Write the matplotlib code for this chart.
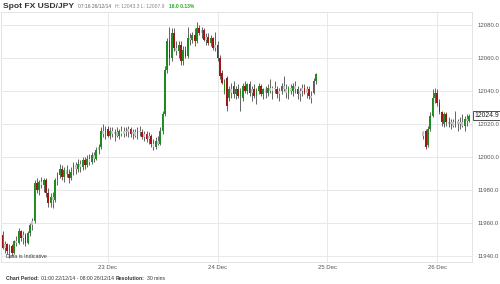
"""
Spot FX USD/JPY - 30 min candles, 22-26 Dec 2014
"""

import pandas as pd
import matplotlib.pyplot as plt
import matplotlib.dates as mdates
from matplotlib.patches import Rectangle

plt.rcParams['font.family'] = ['Liberation Sans', 'DejaVu Sans']

# candle start times (market closed over Christmas day)
TIMES = list(pd.date_range('2014-12-22 01:00', '2014-12-24 21:30', freq='30min')) + \
        list(pd.date_range('2014-12-25 21:00', '2014-12-26 07:00', freq='30min'))

OPEN = [
    11953, 11945, 11947, 11943, 11946, 11942, 11949, 11948, 11955, 11951,
    11953, 11948, 11954, 11959, 11961, 11984, 11980, 11985, 11983, 11986,
    11978, 11972, 11976, 11974, 11986, 11989, 11993, 11988, 11992, 11990,
    11987, 11991, 11995, 11993, 11996, 11994, 11998, 11995, 11999, 11997,
    12001, 11999, 12004, 12006, 12016, 12014, 12017, 12013, 12016, 12014,
    12015, 12013, 12016, 12014, 12016, 12015, 12017, 12014, 12015, 12013,
    12016, 12015, 12012, 12014, 12011, 12013, 12008, 12006, 12010, 12008,
    12016, 12026, 12053, 12070, 12060, 12075, 12066, 12064, 12068, 12058,
    12065, 12061, 12072, 12071, 12074, 12070, 12078, 12075, 12077, 12071,
    12073, 12069, 12072, 12066, 12068, 12060, 12051, 12040, 12048, 12036,
    12041, 12043, 12038, 12041, 12037, 12036, 12043, 12040, 12044, 12039,
    12041, 12037, 12040, 12043, 12038, 12041, 12039, 12042, 12040, 12042,
    12041, 12038, 12040, 12043, 12041, 12039, 12042, 12040, 12043, 12041,
    12038, 12040, 12042, 12039, 12041, 12037, 12039, 12046,
    # 25/26 Dec
    12013, 12016, 12007, 12017, 12025, 12036, 12039, 12033, 12027, 12020,
    12026, 12021, 12020, 12021, 12019, 12022, 12020, 12021, 12019, 12023,
    12022,
]

HIGH = [
    11955, 11949, 11948, 11947, 11947, 11950, 11952, 11957, 11956, 11955,
    11954, 11955, 11960, 11963, 11986, 11987, 11986, 11988, 11987, 11987,
    11981, 11978, 11979, 11987, 11991, 11996, 11995, 11994, 11995, 11993,
    11994, 11997, 11997, 11999, 11998, 12000, 12000, 12001, 12002, 12003,
    12003, 12006, 12008, 12018, 12020, 12019, 12019, 12018, 12018, 12017,
    12018, 12017, 12019, 12018, 12018, 12019, 12018, 12017, 12017, 12018,
    12019, 12017, 12016, 12016, 12015, 12014, 12011, 12012, 12013, 12018,
    12028, 12055, 12072, 12079, 12078, 12078, 12070, 12070, 12070, 12067,
    12067, 12079, 12075, 12076, 12078, 12082, 12080, 12079, 12078, 12075,
    12075, 12074, 12073, 12076, 12070, 12062, 12053, 12047, 12049, 12043,
    12045, 12046, 12043, 12044, 12042, 12045, 12046, 12045, 12046, 12043,
    12044, 12042, 12045, 12044, 12042, 12043, 12044, 12047, 12043, 12046,
    12043, 12042, 12045, 12049, 12044, 12043, 12044, 12045, 12046, 12043,
    12042, 12044, 12044, 12043, 12043, 12040, 12048, 12051,
    # 25/26 Dec
    12016, 12017, 12019, 12027, 12041, 12042, 12041, 12035, 12028, 12027,
    12027, 12024, 12023, 12023, 12028, 12023, 12024, 12026, 12025, 12026,
    12026,
]

LOW = [
    11944, 11942, 11941, 11939, 11940, 11941, 11946, 11947, 11949, 11947,
    11946, 11947, 11952, 11956, 11960, 11978, 11977, 11981, 11979, 11976,
    11970, 11970, 11969, 11973, 11983, 11987, 11986, 11985, 11988, 11984,
    11986, 11989, 11990, 11991, 11991, 11992, 11993, 11994, 11995, 11996,
    11997, 11998, 12002, 12005, 12012, 12011, 12012, 12011, 12012, 12010,
    12012, 12011, 12013, 12012, 12013, 12012, 12012, 12011, 12012, 12011,
    12013, 12011, 12010, 12009, 12008, 12006, 12004, 12005, 12007, 12007,
    12014, 12025, 12051, 12056, 12058, 12064, 12062, 12060, 12056, 12056,
    12060, 12060, 12068, 12069, 12067, 12069, 12074, 12072, 12070, 12068,
    12068, 12067, 12065, 12064, 12058, 12047, 12044, 12038, 12028, 12034,
    12036, 12036, 12035, 12036, 12028, 12034, 12039, 12038, 12037, 12034,
    12036, 12032, 12038, 12037, 12035, 12036, 12037, 12039, 12035, 12039,
    12036, 12034, 12038, 12040, 12036, 12035, 12038, 12037, 12039, 12035,
    12034, 12037, 12038, 12036, 12035, 12033, 12038, 12044,
    # 25/26 Dec
    12011, 12005, 12006, 12016, 12024, 12033, 12031, 12026, 12019, 12018,
    12019, 12018, 12017, 12018, 12018, 12016, 12017, 12018, 12016, 12019,
    12021,
]

CLOSE = [
    11945, 11947, 11943, 11946, 11942, 11949, 11948, 11955, 11951, 11953,
    11948, 11954, 11959, 11961, 11984, 11980, 11985, 11983, 11986, 11978,
    11972, 11976, 11974, 11986, 11989, 11993, 11988, 11992, 11990, 11987,
    11991, 11995, 11993, 11996, 11994, 11998, 11995, 11999, 11997, 12001,
    11999, 12004, 12006, 12016, 12014, 12017, 12013, 12016, 12014, 12015,
    12013, 12016, 12014, 12016, 12015, 12017, 12014, 12015, 12013, 12016,
    12015, 12012, 12014, 12011, 12013, 12008, 12006, 12010, 12008, 12016,
    12026, 12053, 12070, 12060, 12075, 12066, 12064, 12068, 12058, 12065,
    12061, 12072, 12071, 12074, 12070, 12078, 12075, 12077, 12071, 12073,
    12069, 12072, 12066, 12068, 12060, 12049, 12045, 12046, 12031, 12041,
    12039, 12038, 12041, 12037, 12040, 12043, 12040, 12044, 12039, 12041,
    12037, 12040, 12043, 12038, 12041, 12039, 12042, 12040, 12042, 12041,
    12038, 12040, 12043, 12041, 12039, 12042, 12040, 12043, 12041, 12038,
    12040, 12042, 12039, 12041, 12037, 12036, 12046, 12050,
    # 25/26 Dec
    12015, 12006, 12017, 12025, 12036, 12039, 12033, 12027, 12021, 12026,
    12021, 12020, 12021, 12019, 12022, 12020, 12021, 12019, 12023, 12022,
    12024.9,
]

Y_TICKS = [11940, 11960, 11980, 12000, 12020, 12040, 12060, 12080]
DAY_TICKS = ['2014-12-23', '2014-12-24', '2014-12-25', '2014-12-26']
LAST_PRICE = 12024.9

GREEN = '#1f8a1f'
RED = '#a31515'
GREY = '#c4c4c4'
WICK = '#4a4a4a'


def text_run(fig, x, y, parts, gap=0.006):
    """Write several text pieces one after another on one line."""
    renderer = fig.canvas.get_renderer()
    for s, kw in parts:
        t = fig.text(x, y, s, va='center', ha='left', **kw)
        bb = t.get_window_extent(renderer=renderer)
        x += bb.width / fig.bbox.width + gap


def draw_chart():
    fig = plt.figure(figsize=(5.0, 2.84), dpi=100)
    ax = fig.add_axes([0.002, 0.0775, 0.942, 0.8805])

    xs = mdates.date2num(TIMES)
    width = 0.38 / 24  # days
    for x, o, h, l, c in zip(xs, OPEN, HIGH, LOW, CLOSE):
        ax.vlines(x, l, h, color=WICK, linewidth=0.6, zorder=2)
        if c > o + 2:
            col = GREEN
        elif c < o - 2:
            col = RED
        else:
            col = GREY
        bottom = min(o, c)
        height = max(abs(c - o), 0.6)
        ax.add_patch(Rectangle((x - width / 2, bottom), width, height,
                               facecolor=col, edgecolor='none', zorder=3))

    ax.set_xlim(mdates.date2num(pd.Timestamp('2014-12-22 00:40')),
                mdates.date2num(pd.Timestamp('2014-12-26 07:38')))
    ax.set_ylim(11936.4, 12087.9)

    ax.set_yticks(Y_TICKS)
    ax.set_yticklabels([f"{v:.1f}" for v in Y_TICKS])
    ax.yaxis.tick_right()
    ax.set_xticks(mdates.date2num(pd.to_datetime(DAY_TICKS)))
    ax.set_xticklabels([pd.Timestamp(d).strftime('%d %b') for d in DAY_TICKS])
    ax.tick_params(axis='both', length=0, labelsize=4.3, colors='#555555')
    ax.tick_params(axis='y', pad=4)
    ax.tick_params(axis='x', pad=2)

    ax.grid(True, color='#e8e8e8', linewidth=0.7, zorder=0)
    ax.set_axisbelow(True)
    for s in ax.spines.values():
        s.set_color('#e3e3e3')
        s.set_linewidth(0.7)

    # current price box
    ax.text(1.005, (LAST_PRICE - 11936.4) / (12087.9 - 11936.4), f"{LAST_PRICE:.1f}",
            transform=ax.transAxes, fontsize=4.9, color='#222222', va='center', ha='left',
            bbox=dict(boxstyle='square,pad=0.15', facecolor='white', edgecolor='#333333',
                      linewidth=0.6))

    ax.text(0.01, 0.012, 'Data is Indicative', transform=ax.transAxes,
            fontsize=3.8, color='#333333', va='bottom', ha='left')

    # header
    text_run(fig, 0.006, 0.978, [
        ('Spot FX USD/JPY', dict(fontsize=6.1, fontweight='bold', color='#333333')),
        ('07:16 26/12/14', dict(fontsize=3.6, color='#666666')),
        ('H: 12043.3 L: 12007.9', dict(fontsize=3.6, color='#888888')),
        ('16.0 0.13%', dict(fontsize=3.6, fontweight='bold', color='#22aa22')),
    ], gap=0.008)

    # footer
    text_run(fig, 0.012, 0.021, [
        ('Chart Period:', dict(fontsize=3.7, fontweight='bold', color='#333333')),
        ('01:00 22/12/14 - 08:00 26/12/14', dict(fontsize=3.7, color='#333333')),
        ('Resolution:', dict(fontsize=3.7, fontweight='bold', color='#333333')),
        ('30 mins', dict(fontsize=3.7, color='#333333')),
    ], gap=0.004)

    fig.savefig('out.png', dpi=100, facecolor='white')
    plt.close(fig)


if __name__ == "__main__":
    draw_chart()
